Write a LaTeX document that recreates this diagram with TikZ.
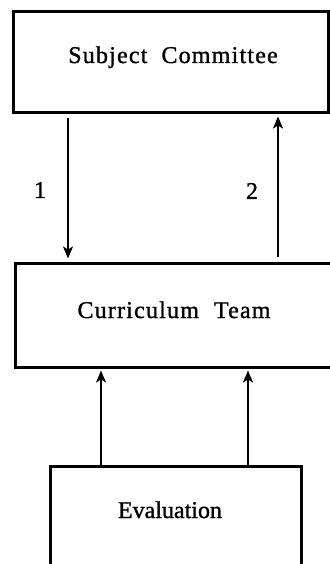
\documentclass[tikz,border=0pt]{standalone}
\usepackage{fontspec}
\setmainfont{Liberation Serif}[FakeBold=1.2]
\newfontfamily\spacedfont[LetterSpace=5,FakeBold=1.2]{Liberation Serif}
\usetikzlibrary{positioning,arrows.meta}

\tikzset{
  box/.style={draw,rectangle,line width=3pt,inner sep=0pt},
  boxtext/.style={inner sep=0pt,anchor=base,font=\fontsize{24}{28}\selectfont},
  arr/.style={line width=1.8pt,-{Stealth[length=12pt,width=10pt,inset=3pt]}},
  num/.style={inner sep=0pt,font=\fontsize{24}{28}\selectfont}
}

\begin{document}
\begin{tikzpicture}[x=1pt,y=-1pt]
  \useasboundingbox (0,0) rectangle (329,564);
  % boxes
  \node[box,minimum width=315pt,minimum height=101pt] (committee) at (170.5,62.5) {};
  \node[box,minimum width=330pt,minimum height=104pt] (team) at (180,315) {};
  \node[box,minimum width=251pt,minimum height=130pt] (eval) at (175.5,531) {};
  \node[boxtext] (committeetxt) at (173,63) {\spacedfont Subject\hspace{14pt}Committee};
  \node[boxtext] (teamtxt) at (174,318) {\spacedfont Curriculum\hspace{15pt}Team};
  \node[boxtext] (evaltxt) at (170,518) {Evaluation};
  % arrow positions
  \coordinate (down) at (68,0);
  \coordinate (up) at (278,0);
  \coordinate (left) at (101,0);
  \coordinate (right) at (248,0);
  \draw[arr,shorten <=4pt,shorten >=3pt] (down |- committee.south) -- (down |- team.north);
  \draw[arr,shorten <=5pt,shorten >=2pt] (up |- team.north) -- (up |- committee.south);
  \draw[arr,shorten >=2pt] (left |- eval.north) -- (left |- team.south);
  \draw[arr,shorten >=2pt] (right |- eval.north) -- (right |- team.south);
  \node[num] (one) at (40,190) {1};
  \node[num] (two) at (252,191) {2};
\end{tikzpicture}
\end{document}
